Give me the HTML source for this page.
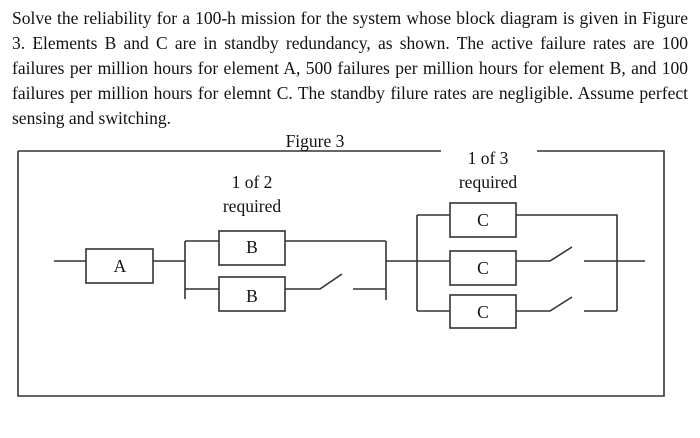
<!DOCTYPE html>
<html><head><meta charset="utf-8"><style>
body{margin:0;background:#fff;width:700px;height:438px;overflow:hidden;position:relative;font-family:"Liberation Serif",serif;color:#111}
.p{position:absolute;left:12px;width:676px;top:6px;font-size:17.5px;line-height:25px}
.p div{text-align:justify;text-align-last:justify;white-space:nowrap}
.p div.l{text-align-last:left}
svg{position:absolute;left:0;top:0}
</style></head><body>
<div class="p">
<div>Solve the reliability for a 100-h mission for the system whose block diagram is given in Figure</div>
<div>3. Elements B and C are in standby redundancy, as shown. The active failure rates are 100</div>
<div>failures per million hours for element A, 500 failures per million hours for element B, and 100</div>
<div>failures per million hours for elemnt C. The standby filure rates are negligible. Assume perfect</div>
<div class="l">sensing and switching.</div>
</div>
<svg width="700" height="438" font-family="Liberation Serif, serif" fill="none" stroke="#333" stroke-width="1.6">
<path d="M18 151H441M537 151H664V396H18V151"/>
<g fill="#111" stroke="none" font-size="17.5" text-anchor="middle">
<text x="315" y="147">Figure 3</text>
<text x="252" y="188">1 of 2</text>
<text x="252" y="212">required</text>
<text x="488" y="164">1 of 3</text>
<text x="488" y="188">required</text>
<text x="120" y="272">A</text>
<text x="252" y="253">B</text>
<text x="252" y="302">B</text>
<text x="483" y="226">C</text>
<text x="483" y="274">C</text>
<text x="483" y="318">C</text>
</g>
<rect x="86" y="249" width="67" height="34"/>
<rect x="219" y="231" width="66" height="34"/>
<rect x="219" y="277" width="66" height="34"/>
<rect x="450" y="203" width="66" height="34"/>
<rect x="450" y="251" width="66" height="34"/>
<rect x="450" y="295" width="66" height="33"/>
<path d="M54 261H86M153 261H185M185 241V299M185 241H219M185 289H219M285 241H386M285 289H320L342 274M353 289H386M386 241V300"/>
<path d="M386 261H450M417 215V311M417 215H450M417 311H450M516 215H617V311M516 261H550L572 247M584 261H645M516 311H550L572 297M584 311H617"/>
</svg>
</body></html>
